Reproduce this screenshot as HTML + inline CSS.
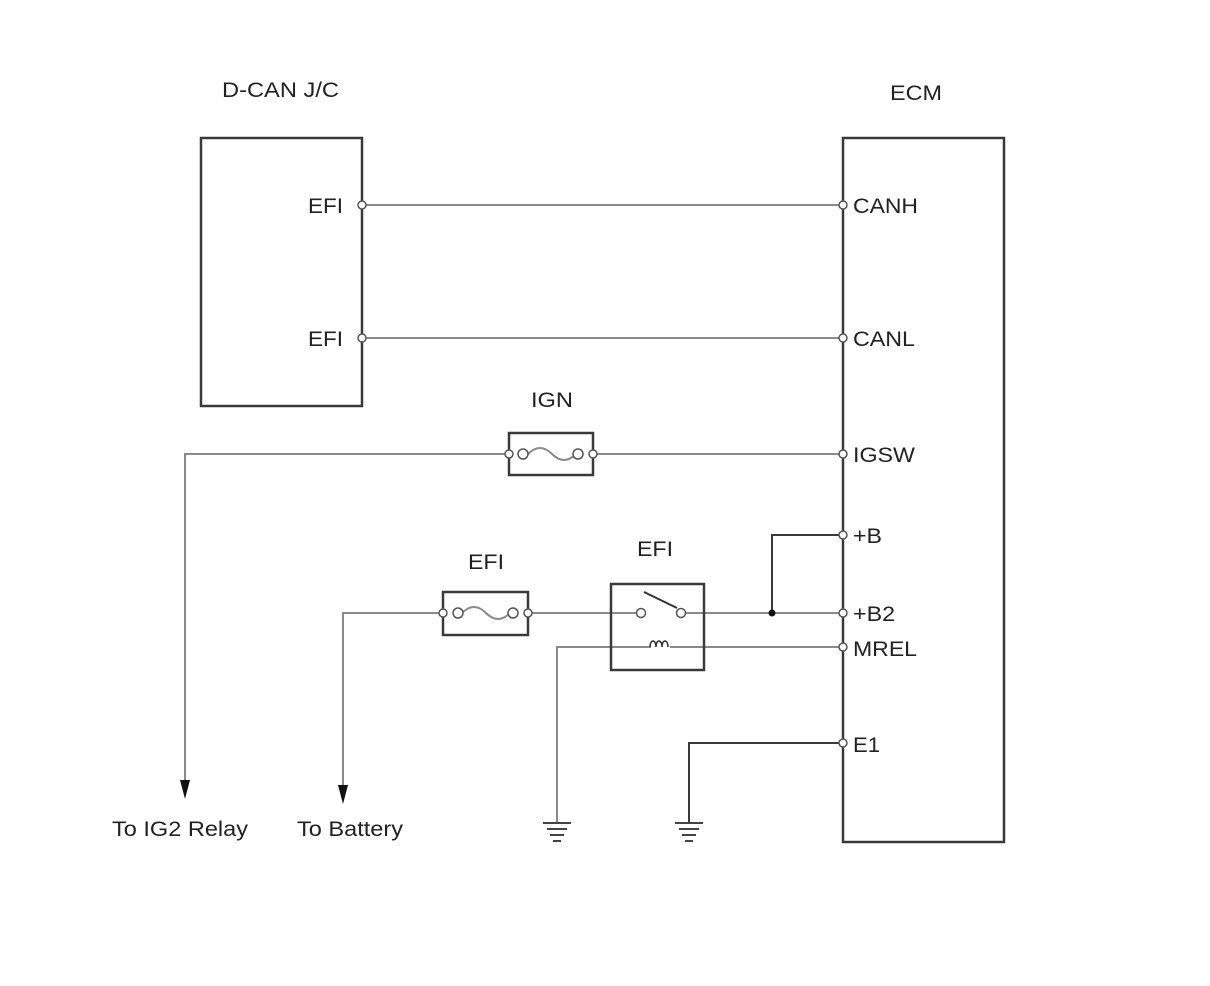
<!DOCTYPE html>
<html><head><meta charset="utf-8"><style>
html,body{margin:0;padding:0;background:#fff;}
svg{display:block;}
text{font-family:"Liberation Sans",sans-serif;font-size:21px;fill:#222;}
</style></head><body>
<svg width="1210" height="986" viewBox="0 0 1210 986" xmlns="http://www.w3.org/2000/svg">
<g lengthAdjust="spacingAndGlyphs">
<text x="222" y="97" textLength="117" lengthAdjust="spacingAndGlyphs">D-CAN J/C</text>
<text x="890" y="100" textLength="52" lengthAdjust="spacingAndGlyphs">ECM</text>
<text x="308" y="213" textLength="35" lengthAdjust="spacingAndGlyphs">EFI</text>
<text x="308" y="346" textLength="35" lengthAdjust="spacingAndGlyphs">EFI</text>
<text x="853" y="213" textLength="65" lengthAdjust="spacingAndGlyphs">CANH</text>
<text x="853" y="346" textLength="62" lengthAdjust="spacingAndGlyphs">CANL</text>
<text x="531" y="407" textLength="42" lengthAdjust="spacingAndGlyphs">IGN</text>
<text x="853" y="462" textLength="62" lengthAdjust="spacingAndGlyphs">IGSW</text>
<text x="853" y="543" textLength="29" lengthAdjust="spacingAndGlyphs">+B</text>
<text x="468" y="569" textLength="36" lengthAdjust="spacingAndGlyphs">EFI</text>
<text x="637" y="556" textLength="36" lengthAdjust="spacingAndGlyphs">EFI</text>
<text x="853" y="621" textLength="42" lengthAdjust="spacingAndGlyphs">+B2</text>
<text x="853" y="656" textLength="64" lengthAdjust="spacingAndGlyphs">MREL</text>
<text x="853" y="752" textLength="27" lengthAdjust="spacingAndGlyphs">E1</text>
<text x="112" y="836" textLength="136" lengthAdjust="spacingAndGlyphs">To IG2 Relay</text>
<text x="297" y="836" textLength="106" lengthAdjust="spacingAndGlyphs">To Battery</text>
</g>

<g fill="none" stroke-width="2">
<g stroke="#8a8a8a">
<line x1="362" y1="205" x2="843" y2="205"/>
<line x1="362" y1="338" x2="843" y2="338"/>
<polyline points="509,454 185,454 185,785"/>
<line x1="593" y1="454" x2="843" y2="454"/>
<polyline points="443,613 343,613 343,790"/>
<line x1="528" y1="613" x2="641" y2="613"/>
<line x1="681" y1="613" x2="843" y2="613"/>
<polyline points="651,647 557,647 557,822"/>
<line x1="670" y1="647" x2="843" y2="647"/>
</g>
<g stroke="#3a3a3a">
<polyline points="843,535 772,535 772,613"/>
<polyline points="843,743 689,743 689,822"/>
</g>
<g stroke="#3a3a3a" stroke-width="2.5">
<rect x="201" y="138" width="161" height="268"/>
<rect x="843" y="138" width="161" height="704"/>
<rect x="509" y="433" width="84" height="42"/>
<rect x="443" y="592" width="85" height="43"/>
<rect x="611" y="584" width="93" height="86"/>
</g>
<g stroke="#8a8a8a">
<path d="M528,454 q12,-12 24,0 t24,0"/>
<path d="M462,613 q12,-12 24,0 t24,0"/>
</g>
<g stroke="#555" fill="#fff" stroke-width="1.5">
<circle cx="509" cy="454" r="4"/><circle cx="523" cy="454" r="5"/>
<circle cx="578" cy="454" r="5"/><circle cx="593" cy="454" r="4"/>
<circle cx="443" cy="613" r="4"/><circle cx="458" cy="613" r="5"/>
<circle cx="513" cy="613" r="5"/><circle cx="528" cy="613" r="4"/>
<circle cx="641" cy="613" r="4.5"/><circle cx="681" cy="613" r="4.5"/>
</g>
<line x1="644" y1="592" x2="677" y2="608" stroke="#333" stroke-width="2"/>
<path d="M650,647 c0,-8 6,-8 6,0 c0,-8 6,-8 6,0 c0,-8 6,-8 6,0" stroke="#333" stroke-width="1.5"/>
<g stroke="#555" fill="#fff" stroke-width="1.5">
<circle cx="362" cy="205" r="4"/><circle cx="362" cy="338" r="4"/>
<circle cx="843" cy="205" r="4"/><circle cx="843" cy="338" r="4"/>
<circle cx="843" cy="454" r="4"/><circle cx="843" cy="535" r="4"/>
<circle cx="843" cy="613" r="4"/><circle cx="843" cy="647" r="4"/>
<circle cx="843" cy="743" r="4"/>
</g>
</g>
<circle cx="772" cy="613" r="3.5" fill="#111"/>
<polygon points="180,780 190,780 185,799" fill="#111"/>
<polygon points="338,785 348,785 343,804" fill="#111"/>
<g stroke="#444" stroke-width="2">
<line x1="543" y1="823" x2="571" y2="823"/><line x1="547" y1="829" x2="567" y2="829"/>
<line x1="550" y1="835" x2="564" y2="835"/><line x1="553" y1="841" x2="561" y2="841"/>
<line x1="675" y1="823" x2="703" y2="823"/><line x1="679" y1="829" x2="699" y2="829"/>
<line x1="682" y1="835" x2="696" y2="835"/><line x1="685" y1="841" x2="693" y2="841"/>
</g>
</svg>
</body></html>
